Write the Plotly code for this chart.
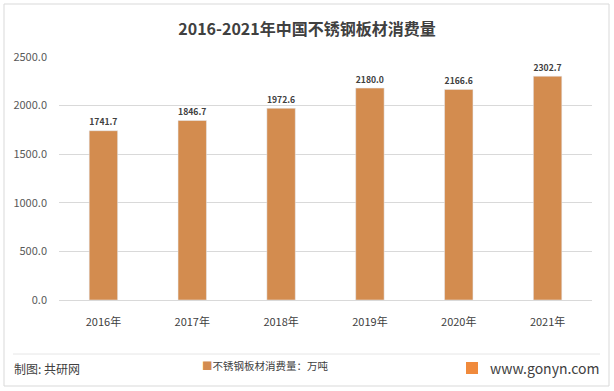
import plotly.graph_objects as go

years = ["2016年", "2017年", "2018年", "2019年", "2020年", "2021年"]
values = [1741.7, 1846.7, 1972.6, 2180.0, 2166.6, 2302.7]
tick_vals = [0, 500, 1000, 1500, 2000, 2500]
tick_text = ["0.0", "500.0", "1000.0", "1500.0", "2000.0", "2500.0"]
series_name = "不锈钢板材消费量：万吨"

BAR = "#D38C4F"
FONT = "Noto Sans CJK SC, sans-serif"

W, H = 614, 391
L, R, T, B = 59, 22, 57, 91
PW, PH = W - L - R, H - T - B


def px(x):
    return (x - L) / PW


def py(y):
    return (H - B - y) / PH


fig = go.Figure()
fig.add_trace(go.Bar(
    x=years, y=values, name=series_name,
    marker=dict(color=BAR),
    text=[f"<b>{v:.1f}</b>" for v in values], textposition="outside",
    textfont=dict(size=11.5, color="#404040", family=FONT),
    cliponaxis=False, showlegend=False, hoverinfo="skip",
))

fig.update_layout(
    width=W, height=H,
    paper_bgcolor="white", plot_bgcolor="white",
    margin=dict(l=L, r=R, t=T, b=B, autoexpand=False),
    bargap=0.68,
    font=dict(family=FONT, color="#595959"),
    title=dict(text="<b>2016-2021年中国不锈钢板材消费量</b>", x=0.5, xanchor="center",
               y=1 - 29 / H, yanchor="middle",
               font=dict(size=16, color="#404040", family=FONT)),
    xaxis=dict(showgrid=False, showline=True, linecolor="#D9D9D9", ticks="",
               automargin=False, ticklabelstandoff=12,
               tickfont=dict(size=11, color="#404040", family=FONT)),
    yaxis=dict(range=[0, 2500], tickvals=tick_vals, ticktext=tick_text,
               showgrid=True, gridcolor="#D9D9D9", zeroline=False, automargin=False,
               tickfont=dict(size=11, color="#595959", family=FONT), ticks="",
               ticklabelstandoff=11),
)

# outer border
fig.add_shape(type="rect", xref="paper", yref="paper", x0=px(4), x1=px(609), y0=py(386), y1=py(4),
              line=dict(color="#D9D9D9", width=1), fillcolor="rgba(0,0,0,0)", layer="below")
# footer separator
fig.add_shape(type="line", xref="paper", yref="paper", x0=px(13), x1=px(600), y0=py(354), y1=py(354),
              line=dict(color="#E6E6E6", width=1))
fig.add_annotation(text="制图: 共研网", xref="paper", yref="paper", x=px(12), y=py(368),
                   xanchor="left", yanchor="middle", showarrow=False,
                   font=dict(size=12, color="#404040", family=FONT))
fig.add_annotation(text=f"<span style='color:{BAR}'>■</span>{series_name}", xref="paper", yref="paper",
                   x=px(265), y=py(365), xanchor="center", yanchor="middle", showarrow=False,
                   font=dict(size=10.5, color="#404040", family=FONT))
fig.add_shape(type="rect", xref="paper", yref="paper", x0=px(466), x1=px(478), y0=py(374), y1=py(362),
              line=dict(width=0), fillcolor="#F08A3C")
fig.add_annotation(text="www.gonyn.com", xref="paper", yref="paper",
                   x=px(601), y=py(368), xanchor="right", yanchor="middle", showarrow=False,
                   font=dict(size=14, color="#404040", family=FONT))

fig.write_html("out.html", config={"displayModeBar": False},
               post_script="document.body.style.margin='0';document.body.style.overflow='hidden';")
